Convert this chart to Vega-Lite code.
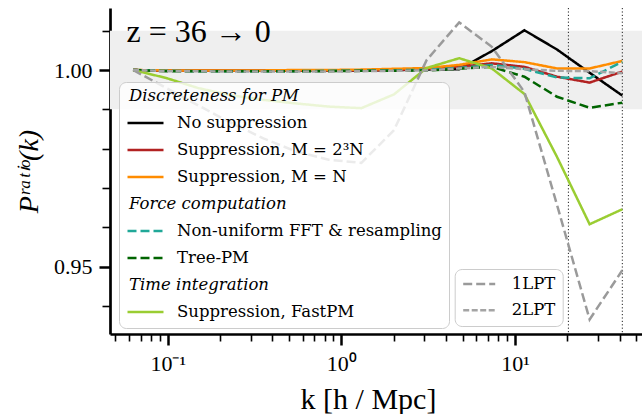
{
  "$schema": "https://vega.github.io/schema/vega-lite/v6.json",
  "width": 532,
  "height": 326,
  "autosize": "none",
  "padding": {"left": 110, "top": 8, "right": 0, "bottom": 80},
  "background": "white",
  "config": {"view": {"stroke": null}, "font": "Liberation Serif"},
  "datasets": {
    "main": [
      {"k":0.0632,"P":1.0,"series":"No suppression"},{"k":0.0974,"P":0.9998,"series":"No suppression"},{"k":0.150,"P":0.9998,"series":"No suppression"},{"k":0.231,"P":0.9998,"series":"No suppression"},{"k":0.356,"P":0.9998,"series":"No suppression"},{"k":0.549,"P":0.9998,"series":"No suppression"},{"k":0.846,"P":0.9999,"series":"No suppression"},{"k":1.304,"P":0.9999,"series":"No suppression"},{"k":2.009,"P":1.0,"series":"No suppression"},{"k":3.096,"P":1.0001,"series":"No suppression"},{"k":4.771,"P":1.0002,"series":"No suppression"},{"k":7.352,"P":1.0048,"series":"No suppression"},{"k":11.33,"P":1.0101,"series":"No suppression"},{"k":17.46,"P":1.0052,"series":"No suppression"},{"k":26.9,"P":0.9993,"series":"No suppression"},{"k":41.5,"P":0.9935,"series":"No suppression"},
      {"k":0.0632,"P":1.0,"series":"Suppression, M = 2³N"},{"k":0.0974,"P":0.9998,"series":"Suppression, M = 2³N"},{"k":0.150,"P":0.9998,"series":"Suppression, M = 2³N"},{"k":0.231,"P":0.9998,"series":"Suppression, M = 2³N"},{"k":0.356,"P":0.9998,"series":"Suppression, M = 2³N"},{"k":0.549,"P":0.9998,"series":"Suppression, M = 2³N"},{"k":0.846,"P":0.9999,"series":"Suppression, M = 2³N"},{"k":1.304,"P":0.9999,"series":"Suppression, M = 2³N"},{"k":2.009,"P":1.0,"series":"Suppression, M = 2³N"},{"k":3.096,"P":1.0003,"series":"Suppression, M = 2³N"},{"k":4.771,"P":1.0008,"series":"Suppression, M = 2³N"},{"k":7.352,"P":1.0017,"series":"Suppression, M = 2³N"},{"k":11.33,"P":1.0008,"series":"Suppression, M = 2³N"},{"k":17.46,"P":0.9983,"series":"Suppression, M = 2³N"},{"k":26.9,"P":0.9968,"series":"Suppression, M = 2³N"},{"k":41.5,"P":0.9996,"series":"Suppression, M = 2³N"},
      {"k":0.0632,"P":1.0,"series":"Suppression, M = N"},{"k":0.0974,"P":0.9999,"series":"Suppression, M = N"},{"k":0.150,"P":0.9999,"series":"Suppression, M = N"},{"k":0.231,"P":0.9999,"series":"Suppression, M = N"},{"k":0.356,"P":0.9999,"series":"Suppression, M = N"},{"k":0.549,"P":1.0,"series":"Suppression, M = N"},{"k":0.846,"P":1.0,"series":"Suppression, M = N"},{"k":1.304,"P":1.0001,"series":"Suppression, M = N"},{"k":2.009,"P":1.0003,"series":"Suppression, M = N"},{"k":3.096,"P":1.0005,"series":"Suppression, M = N"},{"k":4.771,"P":1.0013,"series":"Suppression, M = N"},{"k":7.352,"P":1.0027,"series":"Suppression, M = N"},{"k":11.33,"P":1.002,"series":"Suppression, M = N"},{"k":17.46,"P":1.0004,"series":"Suppression, M = N"},{"k":26.9,"P":1.0004,"series":"Suppression, M = N"},{"k":41.5,"P":1.0023,"series":"Suppression, M = N"},
      {"k":0.0632,"P":1.0,"series":"Non-uniform FFT & resampling"},{"k":0.0974,"P":0.9998,"series":"Non-uniform FFT & resampling"},{"k":0.150,"P":0.9997,"series":"Non-uniform FFT & resampling"},{"k":0.231,"P":0.9997,"series":"Non-uniform FFT & resampling"},{"k":0.356,"P":0.9997,"series":"Non-uniform FFT & resampling"},{"k":0.549,"P":0.9997,"series":"Non-uniform FFT & resampling"},{"k":0.846,"P":0.9998,"series":"Non-uniform FFT & resampling"},{"k":1.304,"P":0.9998,"series":"Non-uniform FFT & resampling"},{"k":2.009,"P":0.9999,"series":"Non-uniform FFT & resampling"},{"k":3.096,"P":1.0001,"series":"Non-uniform FFT & resampling"},{"k":4.771,"P":1.0005,"series":"Non-uniform FFT & resampling"},{"k":7.352,"P":1.0013,"series":"Non-uniform FFT & resampling"},{"k":11.33,"P":1.0003,"series":"Non-uniform FFT & resampling"},{"k":17.46,"P":0.9981,"series":"Non-uniform FFT & resampling"},{"k":26.9,"P":0.9979,"series":"Non-uniform FFT & resampling"},{"k":41.5,"P":1.0021,"series":"Non-uniform FFT & resampling"},
      {"k":0.0632,"P":1.0,"series":"Tree-PM"},{"k":0.0974,"P":0.9997,"series":"Tree-PM"},{"k":0.150,"P":0.9997,"series":"Tree-PM"},{"k":0.231,"P":0.9997,"series":"Tree-PM"},{"k":0.356,"P":0.9997,"series":"Tree-PM"},{"k":0.549,"P":0.9997,"series":"Tree-PM"},{"k":0.846,"P":0.9997,"series":"Tree-PM"},{"k":1.304,"P":0.9998,"series":"Tree-PM"},{"k":2.009,"P":0.9998,"series":"Tree-PM"},{"k":3.096,"P":0.9999,"series":"Tree-PM"},{"k":4.771,"P":1.0003,"series":"Tree-PM"},{"k":7.352,"P":1.0008,"series":"Tree-PM"},{"k":11.33,"P":0.9983,"series":"Tree-PM"},{"k":17.46,"P":0.9932,"series":"Tree-PM"},{"k":26.9,"P":0.9904,"series":"Tree-PM"},{"k":41.5,"P":0.9917,"series":"Tree-PM"},
      {"k":0.0632,"P":1.0,"series":"Suppression, FastPM"},{"k":0.0974,"P":0.998,"series":"Suppression, FastPM"},{"k":0.150,"P":0.9954,"series":"Suppression, FastPM"},{"k":0.231,"P":0.9936,"series":"Suppression, FastPM"},{"k":0.356,"P":0.9924,"series":"Suppression, FastPM"},{"k":0.549,"P":0.9915,"series":"Suppression, FastPM"},{"k":0.846,"P":0.9907,"series":"Suppression, FastPM"},{"k":1.304,"P":0.9903,"series":"Suppression, FastPM"},{"k":2.009,"P":0.9938,"series":"Suppression, FastPM"},{"k":3.096,"P":1.0005,"series":"Suppression, FastPM"},{"k":4.771,"P":1.003,"series":"Suppression, FastPM"},{"k":7.352,"P":1.0004,"series":"Suppression, FastPM"},{"k":11.33,"P":0.9939,"series":"Suppression, FastPM"},{"k":17.46,"P":0.9779,"series":"Suppression, FastPM"},{"k":26.9,"P":0.9608,"series":"Suppression, FastPM"},{"k":41.5,"P":0.9646,"series":"Suppression, FastPM"}
    ],
    "lpt": [
      {"k":0.0632,"P":1.0,"series":"1LPT"},{"k":0.0974,"P":0.9955,"series":"1LPT"},{"k":0.150,"P":0.991,"series":"1LPT"},{"k":0.231,"P":0.9866,"series":"1LPT"},{"k":0.356,"P":0.9826,"series":"1LPT"},{"k":0.549,"P":0.9793,"series":"1LPT"},{"k":0.846,"P":0.9772,"series":"1LPT"},{"k":1.304,"P":0.9764,"series":"1LPT"},{"k":2.009,"P":0.9847,"series":"1LPT"},{"k":3.096,"P":1.0025,"series":"1LPT"},{"k":4.771,"P":1.0121,"series":"1LPT"},{"k":7.352,"P":1.0059,"series":"1LPT"},{"k":11.33,"P":0.9944,"series":"1LPT"},{"k":17.46,"P":0.9657,"series":"1LPT"},{"k":26.9,"P":0.9366,"series":"1LPT"},{"k":41.5,"P":0.9491,"series":"1LPT"},
      {"k":0.0632,"P":1.0,"series":"2LPT"},{"k":0.0974,"P":0.9997,"series":"2LPT"},{"k":0.150,"P":0.9997,"series":"2LPT"},{"k":0.231,"P":0.9996,"series":"2LPT"},{"k":0.356,"P":0.9996,"series":"2LPT"},{"k":0.549,"P":0.9996,"series":"2LPT"},{"k":0.846,"P":0.9996,"series":"2LPT"},{"k":1.304,"P":0.9997,"series":"2LPT"},{"k":2.009,"P":0.9998,"series":"2LPT"},{"k":3.096,"P":0.9999,"series":"2LPT"},{"k":4.771,"P":1.0004,"series":"2LPT"},{"k":7.352,"P":1.0008,"series":"2LPT"},{"k":11.33,"P":1.0002,"series":"2LPT"},{"k":17.46,"P":0.9998,"series":"2LPT"},{"k":26.9,"P":0.9997,"series":"2LPT"},{"k":41.5,"P":0.9992,"series":"2LPT"}
    ],
    "band": [{"P": 0.99, "P2": 1.01}],
    "vlines": [{"k": 20.3}, {"k": 41.5}],
    "label": [{"text": "z = 36 → 0"}]
  },
  "layer": [
    {
      "data": {"name": "band"},
      "mark": {"type": "rect", "color": "#efefef"},
      "encoding": {
        "y": {"field": "P", "type": "quantitative", "scale": {"domain": [0.9329, 1.01576], "nice": false, "zero": false}},
        "y2": {"field": "P2"}
      }
    },
    {
      "mark": {"type": "rule", "color": "black", "strokeWidth": 1, "strokeDash": [1.2, 2.2]},
      "encoding": {"y": {"datum": 1.0, "type": "quantitative"}}
    },
    {
      "data": {"name": "vlines"},
      "mark": {"type": "rule", "color": "#222222", "strokeWidth": 1, "strokeDash": [1.2, 2.2]},
      "encoding": {"x": {"field": "k", "type": "quantitative"}}
    },
    {
      "data": {"name": "label"},
      "mark": {"type": "text", "font": "Liberation Serif", "fontSize": 32, "align": "left", "baseline": "alphabetic", "color": "black"},
      "encoding": {
        "x": {"datum": 0.058, "type": "quantitative"},
        "y": {"datum": 1.0072, "type": "quantitative"},
        "text": {"field": "text", "type": "nominal"}
      }
    },
    {
      "data": {"name": "main"},
      "mark": {"type": "line", "strokeWidth": 2.5},
      "encoding": {
        "x": {
          "field": "k", "type": "quantitative",
          "scale": {"type": "log", "domain": [0.04654, 53.87], "nice": false},
          "axis": {
            "title": "k [h / Mpc]", "titleFont": "Liberation Serif", "titleFontSize": 30, "titleFontWeight": "normal", "titleColor": "black", "titlePadding": 10, "titleX": 258,
            "values": [0.05,0.06,0.07,0.08,0.09,0.1,0.2,0.3,0.4,0.5,0.6,0.7,0.8,0.9,1,2,3,4,5,6,7,8,9,10,20,30,40,50],
            "labelExpr": "datum.value == 0.1 ? '10⁻¹' : datum.value == 1 ? '10⁰' : datum.value == 10 ? '10¹' : ''",
            "labelFont": "Liberation Serif", "labelFontSize": 22, "labelColor": "black", "labelPadding": 8, "labelOverlap": false, "labelFlush": false,
            "grid": false, "domainColor": "black", "domainWidth": 2.7, "tickColor": "black",
            "tickSize": {"condition": {"test": "datum.value == 0.1 || datum.value == 1 || datum.value == 10", "value": 11}, "value": 7},
            "tickWidth": {"condition": {"test": "datum.value == 0.1 || datum.value == 1 || datum.value == 10", "value": 2.5}, "value": 1.6}
          }
        },
        "y": {
          "field": "P", "type": "quantitative",
          "scale": {"domain": [0.9329, 1.01576], "nice": false, "zero": false},
          "axis": {
            "title": "Pʳᵃᵗⁱᵒ(k)", "titleFont": "Liberation Serif", "titleFontSize": 28, "titleFontWeight": "normal", "titleFontStyle": "italic", "titleColor": "black", "titlePadding": 10,
            "values": [0.94,0.95,0.96,0.97,0.98,0.99,1.0,1.01],
            "labelExpr": "abs(datum.value - 1) < 0.000001 ? '1.00' : abs(datum.value - 0.95) < 0.000001 ? '0.95' : ''",
            "labelFont": "Liberation Serif", "labelFontSize": 22, "labelColor": "black", "labelPadding": 7, "labelOverlap": false, "labelFlush": false,
            "grid": false, "domainColor": "black", "domainWidth": 2.7, "tickColor": "black",
            "tickSize": {"condition": {"test": "abs(datum.value - 1) < 0.000001 || abs(datum.value - 0.95) < 0.000001", "value": 11}, "value": 8},
            "tickWidth": {"condition": {"test": "abs(datum.value - 1) < 0.000001 || abs(datum.value - 0.95) < 0.000001", "value": 2.5}, "value": 1.6}
          }
        },
        "color": {
          "field": "series", "type": "nominal",
          "scale": {
            "domain": ["Discreteness for PM","No suppression","Suppression, M = 2³N","Suppression, M = N","Force computation","Non-uniform FFT & resampling","Tree-PM","Time integration","Suppression, FastPM"],
            "range": ["rgba(0,0,0,0)","black","#b22222","#ff8c00","rgba(0,0,0,0)","#20a898","#006400","rgba(0,0,0,0)","#9acd32"]
          },
          "legend": {
            "orient": "none", "legendX": 9, "legendY": 74, "title": null,
            "symbolType": "stroke", "symbolSize": 1296, "symbolStrokeWidth": 2.5,
            "labelFont": "DejaVu Serif", "labelFontSize": 16.5, "labelColor": "black", "labelOffset": 12, "labelLimit": 400,
            "clipHeight": 14, "rowPadding": 10, "padding": 7,
            "fillColor": "rgba(255,255,255,0.8)", "strokeColor": "#cccccc", "cornerRadius": 7,
            "encode": {"labels": {"update": {
              "fontStyle": {"signal": "indexof(['Discreteness for PM','Force computation','Time integration'], datum.value) >= 0 ? 'italic' : 'normal'"},
              "dx": {"signal": "indexof(['Discreteness for PM','Force computation','Time integration'], datum.value) >= 0 ? -48 : 0"}
            }}}
          }
        },
        "strokeDash": {
          "field": "series", "type": "nominal",
          "scale": {
            "domain": ["Discreteness for PM","No suppression","Suppression, M = 2³N","Suppression, M = N","Force computation","Non-uniform FFT & resampling","Tree-PM","Time integration","Suppression, FastPM"],
            "range": [[1,0],[1,0],[1,0],[1,0],[1,0],[9,4],[9,4],[1,0],[1,0]]
          },
          "legend": {
            "orient": "none", "legendX": 9, "legendY": 74, "title": null,
            "symbolType": "stroke", "symbolSize": 1296, "symbolStrokeWidth": 2.5,
            "labelFont": "DejaVu Serif", "labelFontSize": 16.5, "labelColor": "black", "labelOffset": 12, "labelLimit": 400,
            "clipHeight": 14, "rowPadding": 10, "padding": 7,
            "fillColor": "rgba(255,255,255,0.8)", "strokeColor": "#cccccc", "cornerRadius": 7
          }
        }
      }
    },
    {
      "data": {"name": "lpt"},
      "mark": {"type": "line", "strokeWidth": 2.5},
      "encoding": {
        "x": {"field": "k", "type": "quantitative"},
        "y": {"field": "P", "type": "quantitative"},
        "color": {
          "field": "series", "type": "nominal",
          "scale": {"domain": ["1LPT", "2LPT"], "range": ["#9a9a9a", "#a4a4a4"]},
          "legend": {
            "orient": "none", "legendX": 344.7, "legendY": 261, "title": null,
            "symbolType": "stroke", "symbolSize": 1024, "symbolStrokeWidth": 2.5,
            "labelFont": "DejaVu Serif", "labelFontSize": 16.5, "labelColor": "black", "labelOffset": 15,
            "clipHeight": 16, "rowPadding": 9.3, "padding": 7,
            "fillColor": "rgba(255,255,255,0.8)", "strokeColor": "#cccccc", "cornerRadius": 7
          }
        },
        "strokeDash": {
          "field": "series", "type": "nominal",
          "scale": {"domain": ["1LPT", "2LPT"], "range": [[9, 4], [6, 2.5]]},
          "legend": {
            "orient": "none", "legendX": 344.7, "legendY": 261, "title": null,
            "symbolType": "stroke", "symbolSize": 1024, "symbolStrokeWidth": 2.5,
            "labelFont": "DejaVu Serif", "labelFontSize": 16.5, "labelColor": "black", "labelOffset": 15,
            "clipHeight": 16, "rowPadding": 9.3, "padding": 7,
            "fillColor": "rgba(255,255,255,0.8)", "strokeColor": "#cccccc", "cornerRadius": 7
          }
        }
      }
    },
    {
      "mark": {"type": "rule", "color": "black", "strokeWidth": 2.7},
      "encoding": {"y": {"datum": 1.01576, "type": "quantitative"}}
    }
  ],
  "resolve": {"scale": {"color": "independent", "strokeDash": "independent"}}
}
